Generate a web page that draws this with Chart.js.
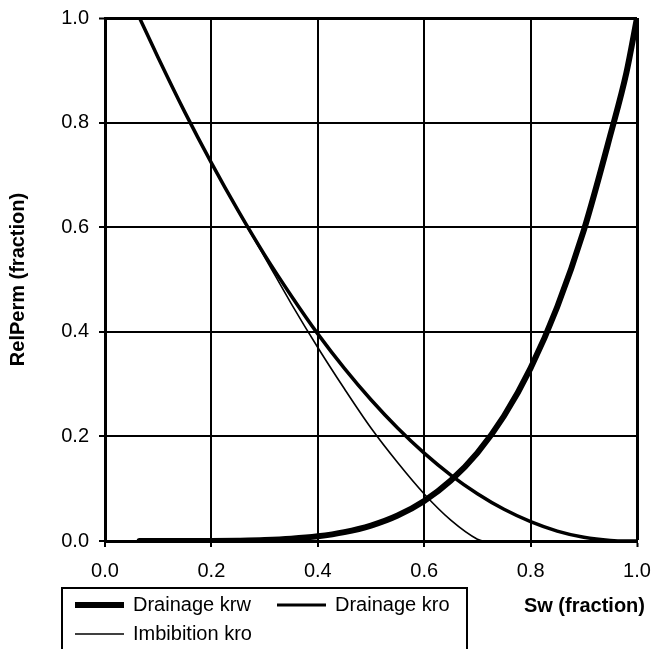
<!DOCTYPE html>
<html>
<head>
<meta charset="utf-8">
<script src="https://cdn.jsdelivr.net/npm/chart.js@4.4.1/dist/chart.umd.min.js"></script>
<style>
  html, body { margin: 0; padding: 0; background: #fff; }
  #wrap { width: 653px; height: 649px; }
</style>
</head>
<body>
<div id="wrap"><canvas id="kr"></canvas></div>
<script>
// water saturation points for the drainage curves
const swDrain = [0.065, 0.1, 0.15, 0.2, 0.25, 0.3, 0.35, 0.4, 0.45, 0.5, 0.55, 0.6,
                 0.65, 0.7, 0.75, 0.8, 0.85, 0.9, 0.95, 0.98, 1.0];
const krwDrain = [0, 0, 0, 0.0001, 0.0006, 0.0017, 0.0042, 0.0089, 0.0169, 0.0296, 0.0488, 0.0767,
                  0.1157, 0.1686, 0.239, 0.3305, 0.4475, 0.594, 0.7766, 0.895, 1.0];
const kroDrain = [1.0, 0.924, 0.82, 0.723, 0.632, 0.547, 0.469, 0.396, 0.33, 0.27, 0.216, 0.168,
                  0.126, 0.0904, 0.0606, 0.037, 0.019, 0.0071, 0.001, 0, 0];

// imbibition oil curve ends at residual oil
const swImb = [0.065, 0.1, 0.15, 0.2, 0.25, 0.3, 0.35, 0.4, 0.45, 0.5, 0.55, 0.6, 0.65, 0.7, 0.71];
const kroImb = [1.0, 0.924, 0.82, 0.723, 0.631, 0.543, 0.454, 0.37, 0.291, 0.216, 0.15, 0.09, 0.04, 0.0035, 0];

const axisTicks = [0, 0.2, 0.4, 0.6, 0.8, 1.0];

const FONT = "'Liberation Sans', Arial, sans-serif";

function toPoints(xs, ys) {
    return xs.map((x, i) => ({ x: x, y: ys[i] }));
}

// legend box and x title sit below the plot, drawn by hand
const legendPlugin = {
    id: 'boxLegend',
    afterDraw(chart) {
        const ctx = chart.ctx;
        const ds = chart.data.datasets;
        ctx.save();
        ctx.strokeStyle = '#000';
        ctx.lineWidth = 2;
        ctx.strokeRect(62, 588, 405, 90);

        const slots = [
            { x: 75, y: 605 },
            { x: 277, y: 605 },
            { x: 75, y: 634 }
        ];
        ctx.font = '20px ' + FONT;
        ctx.fillStyle = '#000';
        ctx.textBaseline = 'middle';
        ctx.textAlign = 'left';
        ds.forEach((d, i) => {
            const s = slots[i];
            ctx.beginPath();
            ctx.lineWidth = d.legendWidth;
            ctx.moveTo(s.x, s.y);
            ctx.lineTo(s.x + 49, s.y);
            ctx.stroke();
            ctx.fillText(d.label, s.x + 58, s.y);
        });

        ctx.font = 'bold 20px ' + FONT;
        ctx.textAlign = 'right';
        ctx.fillText('Sw (fraction)', 645, 606);
        ctx.restore();
    }
};

const gridWidth = c => (c.tick && Math.abs(c.tick.value - 1) < 1e-6) ? 3 : 2;

new Chart(document.getElementById('kr'), {
    type: 'scatter',
    data: {
        datasets: [
            {
                label: 'Drainage krw',
                data: toPoints(swDrain, krwDrain),
                borderColor: '#000',
                borderWidth: 6,
                legendWidth: 6
            },
            {
                label: 'Drainage kro',
                data: toPoints(swDrain, kroDrain),
                borderColor: '#000',
                borderWidth: 3.5,
                legendWidth: 3
            },
            {
                label: 'Imbibition kro',
                data: toPoints(swImb, kroImb),
                borderColor: '#000',
                borderWidth: 1.6,
                legendWidth: 1.6
            }
        ]
    },
    options: {
        responsive: true,
        maintainAspectRatio: false,
        animation: false,
        showLine: true,
        elements: {
            point: { radius: 0 },
            line: { cubicInterpolationMode: 'monotone', borderCapStyle: 'round' }
        },
        layout: { padding: { left: 0, top: 18, right: 16, bottom: 0 } },
        plugins: {
            legend: { display: false },
            tooltip: { enabled: false }
        },
        scales: {
            x: {
                type: 'linear',
                min: 0,
                max: 1,
                afterBuildTicks: s => { s.ticks = axisTicks.map(v => ({ value: v })); },
                afterFit: s => { s.height = 108; s.paddingLeft = 0; s.paddingRight = 0; },
                ticks: {
                    callback: v => v.toFixed(1),
                    color: '#000',
                    padding: 12,
                    maxRotation: 0,
                    font: { family: FONT, size: 20 }
                },
                grid: { color: '#000', lineWidth: gridWidth, tickLength: 6, tickWidth: 2, tickColor: '#000' },
                border: { color: '#000', width: 3 }
            },
            y: {
                min: 0,
                max: 1,
                afterBuildTicks: s => { s.ticks = axisTicks.map(v => ({ value: v })); },
                afterFit: s => { s.width = 105; s.paddingTop = 0; s.paddingBottom = 0; },
                ticks: {
                    callback: v => v.toFixed(1),
                    color: '#000',
                    padding: 10,
                    font: { family: FONT, size: 20 }
                },
                grid: { color: '#000', lineWidth: gridWidth, tickLength: 6, tickWidth: 2, tickColor: '#000' },
                border: { color: '#000', width: 3 },
                title: {
                    display: true,
                    text: 'RelPerm (fraction)',
                    color: '#000',
                    padding: { top: 6, bottom: 0 },
                    font: { family: FONT, size: 20, weight: 'bold' }
                }
            }
        }
    },
    plugins: [legendPlugin]
});
</script>
</body>
</html>
